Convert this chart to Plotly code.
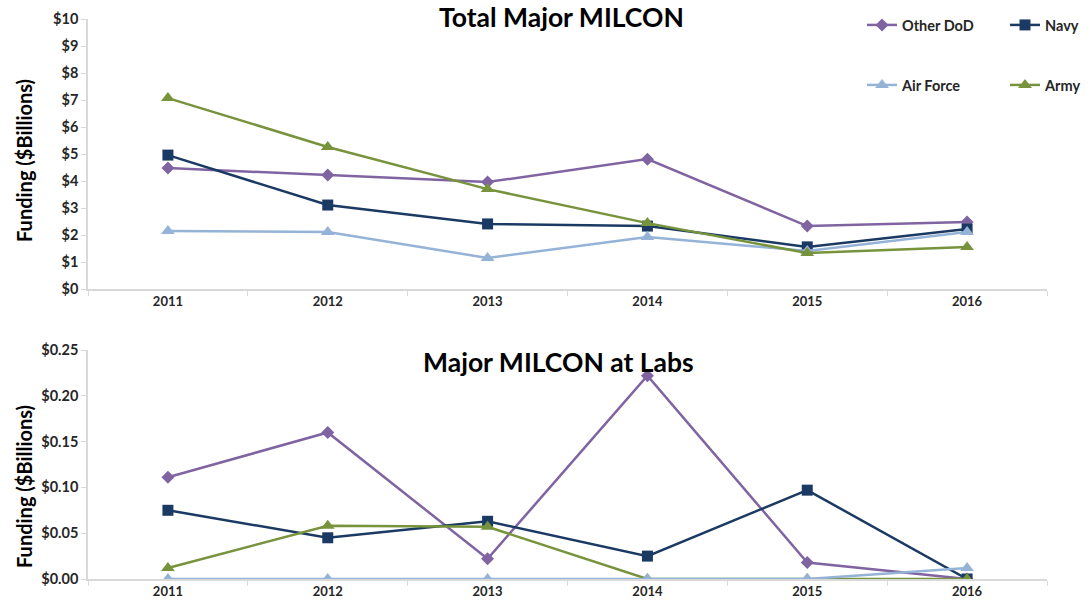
import plotly.graph_objects as go

years = ["2011", "2012", "2013", "2014", "2015", "2016"]
series_names = ["Other DoD", "Navy", "Air Force", "Army"]

total_other_dod = [4.48, 4.22, 3.96, 4.81, 2.33, 2.48]
total_navy = [4.96, 3.11, 2.41, 2.33, 1.56, 2.22]
total_air_force = [2.15, 2.11, 1.15, 1.93, 1.41, 2.11]
total_army = [7.07, 5.26, 3.70, 2.44, 1.33, 1.56]

labs_other_dod = [0.111, 0.160, 0.022, 0.222, 0.018, 0.0]
labs_navy = [0.075, 0.045, 0.063, 0.025, 0.097, 0.0]
labs_air_force = [0.0, 0.0, 0.0, 0.0, 0.0, 0.012]
labs_army = [0.012, 0.058, 0.057, 0.0, 0.0, 0.0]

colors = {"Other DoD": "#8064A2", "Navy": "#1B3A63", "Air Force": "#95B3D7", "Army": "#77933C"}
symbols = {"Other DoD": "diamond", "Navy": "square", "Air Force": "triangle-up", "Army": "triangle-up"}
sizes = {"Other DoD": 10, "Navy": 11, "Air Force": 12, "Army": 12}
legend_of = {"Other DoD": "legend", "Navy": "legend2", "Air Force": "legend3", "Army": "legend4"}

FONT = "Lato"
W, H = 1090, 612

fig = go.Figure()

top = {"Other DoD": total_other_dod, "Navy": total_navy, "Air Force": total_air_force, "Army": total_army}
bottom = {"Other DoD": labs_other_dod, "Navy": labs_navy, "Air Force": labs_air_force, "Army": labs_army}

for name in series_names:
    fig.add_trace(go.Scatter(
        x=years, y=top[name], name=name, mode="lines+markers",
        line=dict(color=colors[name], width=2.5),
        marker=dict(symbol=symbols[name], size=sizes[name], color=colors[name]),
        xaxis="x", yaxis="y", legend=legend_of[name], showlegend=True))

for name in ["Other DoD", "Navy", "Army", "Air Force"]:
    fig.add_trace(go.Scatter(
        x=years, y=bottom[name], name=name, mode="lines+markers",
        line=dict(color=colors[name], width=2.5),
        marker=dict(symbol=symbols[name], size=sizes[name], color=colors[name]),
        xaxis="x2", yaxis="y2", showlegend=False))


def px_x(p):
    return p / W


def px_y(p):
    return (H - p) / H


def axis_common(size):
    return dict(showgrid=False, zeroline=False, showline=True, linecolor="#d9d9d9", linewidth=1.5,
                ticks="outside", tickcolor="#d9d9d9", ticklen=5,
                tickfont=dict(family=FONT, size=size, color="#262626", weight="bold"))


def legend_box(xp, yp):
    return dict(orientation="h", x=px_x(xp), y=px_y(yp), xanchor="left", yanchor="top",
                itemwidth=30, font=dict(family=FONT, size=14.5, color="#262626", weight="bold"),
                bgcolor="rgba(0,0,0,0)")


xdom = [px_x(88), px_x(1047)]
fig.update_layout(
    width=W, height=H, margin=dict(l=0, r=0, t=0, b=0, autoexpand=False),
    paper_bgcolor="white", plot_bgcolor="white",
    xaxis=dict(domain=xdom, anchor="y", type="category", range=[-0.5, 5.5], tickson="boundaries", **axis_common(13)),
    yaxis=dict(domain=[px_y(289), px_y(19)], anchor="x", range=[0, 10], dtick=1, tickprefix="$", **axis_common(14.5)),
    xaxis2=dict(domain=xdom, anchor="y2", type="category", range=[-0.5, 5.5], tickson="boundaries", **axis_common(13)),
    yaxis2=dict(domain=[px_y(579), px_y(350)], anchor="x2", range=[0, 0.25], dtick=0.05, tickprefix="$",
                tickformat=".2f", **axis_common(14.5)),
    legend=legend_box(862, 9),
    legend2=legend_box(1005, 9),
    legend3=legend_box(862, 69),
    legend4=legend_box(1005, 69),
    showlegend=True,
)

annotations = [
    dict(text="Total Major MILCON", x=px_x(561), y=px_y(17), xref="paper", yref="paper",
         xanchor="center", yanchor="middle",
         showarrow=False, font=dict(family=FONT, size=26.5, color="black", weight="bold")),
    dict(text="Major MILCON at Labs", x=px_x(558), y=px_y(362), xref="paper", yref="paper",
         xanchor="center", yanchor="middle",
         showarrow=False, font=dict(family=FONT, size=26.5, color="black", weight="bold")),
    dict(text="Funding ($Billions)", x=px_x(24), y=px_y(161), xref="paper", yref="paper", textangle=-90,
         xanchor="center", yanchor="middle",
         showarrow=False, font=dict(family=FONT, size=20, color="black", weight="bold")),
    dict(text="Funding ($Billions)", x=px_x(24), y=px_y(487), xref="paper", yref="paper", textangle=-90,
         xanchor="center", yanchor="middle",
         showarrow=False, font=dict(family=FONT, size=20, color="black", weight="bold")),
]
fig.update_layout(annotations=annotations)

fig.write_html("out.html", config={"displayModeBar": False},
               post_script="document.body.style.margin='0px';")
